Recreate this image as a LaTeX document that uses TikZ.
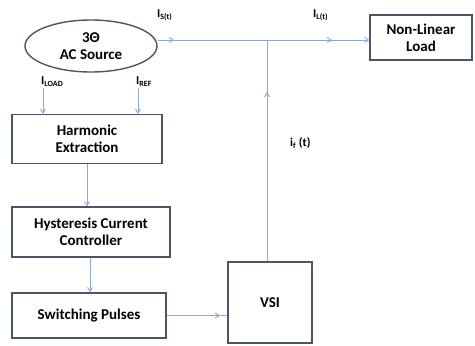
\documentclass[tikz,border=0pt]{standalone}
\usepackage{fontspec}
\setmainfont{Carlito}
\usetikzlibrary{shapes.geometric,arrows.meta}
\definecolor{wire}{HTML}{8FA6C6}
\definecolor{edge}{HTML}{4A5568}
\tikzset{
  blk/.style={draw=edge,line width=1.4pt,fill=white,font=\bfseries\fontsize{15}{17}\selectfont,align=center,inner sep=0pt},
  wireln/.style={draw=wire,line width=0.9pt},
  arr/.style={wireln,-{Straight Barb[length=4pt,width=5pt]}},
  lbl/.style={font=\bfseries\fontsize{12}{14}\selectfont,inner sep=0pt}
}
\begin{document}
\begin{tikzpicture}[x=1pt,y=-1pt]
\useasboundingbox (0,0) rectangle (475,346);
% nodes
\node[blk,ellipse,minimum width=132pt,minimum height=52pt] (src) at (91,46) {3Θ\\AC Source};
\node[blk,minimum width=102pt,minimum height=45pt] (nll) at (421,37.5) {Non-Linear\\Load};
\node[blk,minimum width=150pt,minimum height=49pt] (he) at (87,139) {Harmonic\\Extraction};
\node[blk,minimum width=158pt,minimum height=50pt] (hcc) at (91,232) {Hysteresis Current\\Controller};
\node[blk,minimum width=154pt,minimum height=45pt] (sp) at (89,315.5) {Switching Pulses};
\node[blk,minimum width=84pt,minimum height=81pt] (vsi) at (270,302.5) {VSI};
\coordinate (j) at (267,40);
\coordinate (s1) at (43,88);
\coordinate (s2) at (138,88);
% connectors
\draw[wireln] (src.east |- j) -- (j);
\draw[arr] (src.east |- j) -- (174,40);
\draw[arr] (j) -- (332,40);
\draw[arr] (j) -- (nll.west |- j);
\draw[wireln] (vsi.north -| j) -- (j);
\draw[arr] (vsi.north -| j) -- (267,92);
\draw[arr] (s1) -- (s1 |- he.north);
\draw[arr] (s2) -- (s2 |- he.north);
\draw[arr] (he.south) -- (hcc.north -| he.south);
\draw[arr] (hcc.south -| 90,0) -- (sp.north -| 90,0);
\draw[wireln] (sp.east) -- (sp.east -| vsi.west);
\draw[arr] (sp.east) -- (220,315.5);
% labels
\node[lbl,anchor=west] (ls) at (157,15) {I\textsubscript{S(t)}};
\node[lbl,anchor=west] (ll) at (313,15) {I\textsubscript{L(t)}};
\node[lbl,anchor=west] (lload) at (41,82) {I\textsubscript{LOAD}};
\node[lbl,anchor=west] (lref) at (136,82) {I\textsubscript{REF}};
\node[lbl,anchor=west] (lf) at (290,143) {i\textsubscript{f} (t)};
\end{tikzpicture}
\end{document}
